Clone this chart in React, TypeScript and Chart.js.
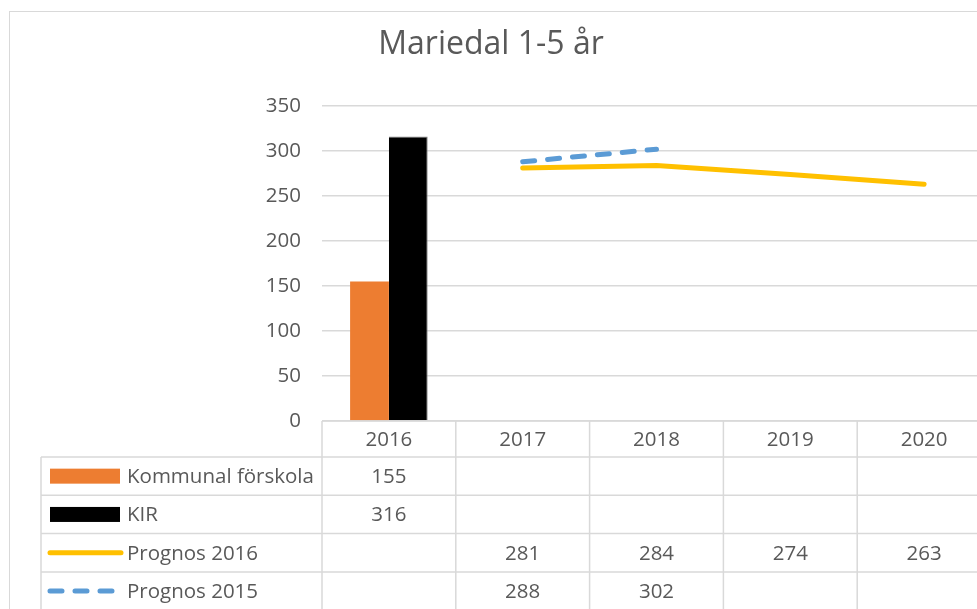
import React, { useEffect, useRef } from "react";
import { Chart, registerables } from "chart.js";

Chart.register(...registerables);

const TITLE = "Mariedal 1-5 år";
const CATEGORIES = ["2016", "2017", "2018", "2019", "2020"];
const KOMMUNAL = [155, null, null, null, null];
const KIR = [316, null, null, null, null];
const PROGNOS_2016 = [null, 281, 284, 274, 263];
const PROGNOS_2015 = [null, 288, 302, null, null];
const Y_TICKS = [0, 50, 100, 150, 200, 250, 300, 350];

const SERIES = [
  { name: "Kommunal förskola", data: KOMMUNAL, color: "#ED7D31", kind: "bar" },
  { name: "KIR", data: KIR, color: "#000000", kind: "bar" },
  { name: "Prognos 2016", data: PROGNOS_2016, color: "#FFC000", kind: "line" },
  { name: "Prognos 2015", data: PROGNOS_2015, color: "#5B9BD5", kind: "dash" },
];

const FONT = "'Open Sans', Lato, sans-serif";
const TEXT = "#595959";
const GRID = "#d9d9d9";
const CW = 1010;
const CH = 640;
const FS = 20.5;

const tablePlugin = {
  id: "tablePlugin",
  beforeDraw(chart: any) {
    const ctx = chart.ctx;
    ctx.save();
    ctx.fillStyle = "#ffffff";
    ctx.fillRect(0, 0, chart.width, chart.height);
    ctx.strokeStyle = GRID;
    ctx.lineWidth = 1;
    ctx.strokeRect(9.5, 11.5, 1200, 1000);
    // title
    ctx.fillStyle = TEXT;
    ctx.font = `32px ${FONT}`;
    ctx.textAlign = "center";
    ctx.textBaseline = "middle";
    ctx.fillText(TITLE, 491, 45);
    ctx.restore();
  },
  afterDraw(chart: any) {
    const ctx = chart.ctx;
    const area = chart.chartArea;
    const xs = chart.scales.x;
    const n = CATEGORIES.length;
    const colW = (area.right - area.left) / n;
    const top = area.bottom;
    const headerBottom = top + 36;
    const rowH = 38.3;
    const tableLeft = 41;
    ctx.save();
    ctx.strokeStyle = GRID;
    ctx.lineWidth = 1.5;
    ctx.beginPath();
    ctx.moveTo(area.left, top);
    ctx.lineTo(area.right, top);
    for (let r = 0; r <= SERIES.length; r++) {
      const y = headerBottom + r * rowH;
      ctx.moveTo(tableLeft, y);
      ctx.lineTo(area.right, y);
    }
    for (let c = 0; c <= n; c++) {
      const x = area.left + c * colW;
      ctx.moveTo(x, top);
      ctx.lineTo(x, chart.height);
    }
    ctx.moveTo(tableLeft, headerBottom);
    ctx.lineTo(tableLeft, chart.height);
    ctx.stroke();

    ctx.fillStyle = TEXT;
    ctx.font = `${FS}px ${FONT}`;
    ctx.textAlign = "center";
    ctx.textBaseline = "middle";
    CATEGORIES.forEach((c, i) => {
      ctx.fillText(c, xs.getPixelForValue(i), (top + headerBottom) / 2 + 1);
    });
    SERIES.forEach((s, r) => {
      const yc = headerBottom + r * rowH + rowH / 2;
      if (s.kind === "bar") {
        ctx.fillStyle = s.color;
        ctx.fillRect(50, yc - 7.5, 70, 15);
      } else {
        ctx.strokeStyle = s.color;
        ctx.lineWidth = 5;
        ctx.lineCap = "round";
        ctx.setLineDash(s.kind === "dash" ? [12, 13] : []);
        ctx.beginPath();
        ctx.moveTo(50, yc);
        ctx.lineTo(121, yc);
        ctx.stroke();
        ctx.setLineDash([]);
      }
      ctx.fillStyle = TEXT;
      ctx.textAlign = "left";
      ctx.fillText(s.name, 127, yc + 1);
      ctx.textAlign = "center";
      s.data.forEach((v, i) => {
        if (v !== null && v !== undefined) {
          ctx.fillText(String(v), xs.getPixelForValue(i), yc + 1);
        }
      });
    });
    ctx.restore();
  },
};

export default function App() {
  const ref = useRef<HTMLCanvasElement>(null);
  useEffect(() => {
    if (!ref.current) return;
    const chart = new Chart(ref.current, {
      type: "bar",
      data: {
        labels: CATEGORIES,
        datasets: [
          {
            type: "bar",
            label: SERIES[0].name,
            data: KOMMUNAL,
            backgroundColor: "#ED7D31",
            categoryPercentage: 0.58,
            barPercentage: 1,
          },
          {
            type: "bar",
            label: SERIES[1].name,
            data: KIR,
            backgroundColor: "#000000",
            borderColor: "#7f7f7f",
            borderWidth: { left: 0, right: 1, top: 1, bottom: 0 },
            categoryPercentage: 0.58,
            barPercentage: 1,
          },
          {
            type: "line",
            label: SERIES[2].name,
            data: PROGNOS_2016,
            borderColor: "#FFC000",
            backgroundColor: "#FFC000",
            borderWidth: 5,
            pointRadius: 0,
            borderCapStyle: "round",
            borderJoinStyle: "round",
            tension: 0,
          },
          {
            type: "line",
            label: SERIES[3].name,
            data: PROGNOS_2015,
            borderColor: "#5B9BD5",
            backgroundColor: "#5B9BD5",
            borderWidth: 5,
            borderDash: [12, 13],
            pointRadius: 0,
            borderCapStyle: "round",
            borderJoinStyle: "round",
            tension: 0,
          },
        ] as any,
      },
      options: {
        animation: false,
        responsive: false,
        maintainAspectRatio: false,
        layout: { padding: { top: 106, bottom: CH - 421, left: 0, right: CW - 991 } },
        plugins: {
          legend: { display: false },
          title: { display: false },
          tooltip: { enabled: false },
        },
        scales: {
          x: { display: false, offset: true },
          y: {
            min: 0,
            max: 350,
            afterBuildTicks: (scale: any) => {
              scale.ticks = Y_TICKS.map((v) => ({ value: v }));
            },
            afterFit: (scale: any) => {
              scale.width = 322;
            },
            border: { display: false },
            grid: { color: GRID, lineWidth: 1.5, drawTicks: false },
            ticks: {
              color: TEXT,
              font: { family: FONT, size: FS },
              padding: 21,
            },
          },
        },
      },
      plugins: [tablePlugin],
    });
    return () => chart.destroy();
  }, []);
  return (
    <div style={{ position: "absolute", left: 0, top: 0, width: 977, height: 609, overflow: "hidden", background: "#fff" }}>
      <canvas ref={ref} width={CW} height={CH} style={{ display: "block", width: CW, height: CH }} />
    </div>
  );
}
